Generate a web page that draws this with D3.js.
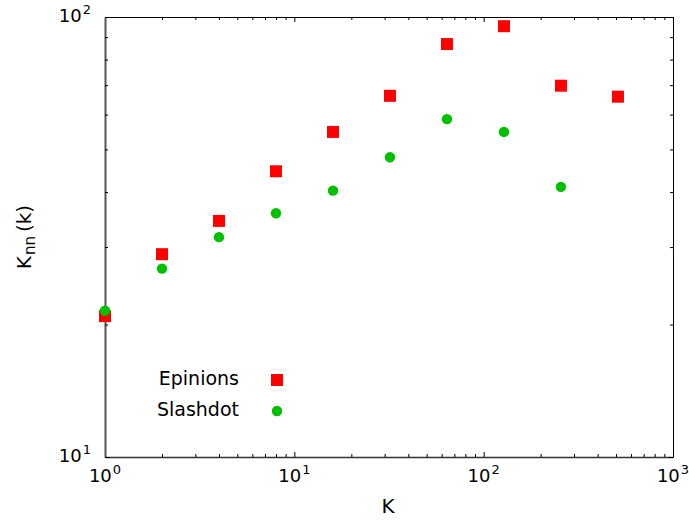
<!DOCTYPE html>
<html>
<head>
<meta charset="utf-8">
<script src="https://cdn.jsdelivr.net/npm/d3@7"></script>
<style>
  body { margin: 0; background: #fff; }
  svg { display: block; font-family: "DejaVu Sans", Verdana, sans-serif; }
</style>
</head>
<body>
<div id="chart"></div>
<script>
var width = 689;
var height = 520;
var margin = {top: 17, right: 16, bottom: 63, left: 105};
var plotW = width - margin.left - margin.right;
var plotH = height - margin.top - margin.bottom;

// data
var seriesNames = ["Epinions", "Slashdot"];
var degreesEpinions = [1, 2, 4, 8, 16, 32, 64, 128, 256, 512];
var knnEpinions = [20.9, 28.9, 34.4, 44.6, 54.8, 66.2, 86.8, 95.3, 69.8, 65.9];
var degreesSlashdot = [1, 2, 4, 8, 16, 32, 64, 128, 256];
var knnSlashdot = [21.5, 26.8, 31.6, 35.8, 40.3, 48.0, 58.6, 54.8, 41.1];
var xDecades = [0, 1, 2, 3];
var yDecades = [1, 2];

var svg = d3.select("#chart")
    .append("svg")
    .attr("width", width)
    .attr("height", height);

var x = d3.scaleLog().domain([1, 1000]).range([0, plotW]);
var y = d3.scaleLog().domain([10, 100]).range([plotH, 0]);

var g = svg.append("g")
    .attr("transform", "translate(" + margin.left + "," + margin.top + ")");

// every 1..9 tick in each decade
function logTicks(decs) {
    var t = [];
    for (var i = 0; i < decs.length - 1; i++) {
        for (var m = 1; m < 10; m++) t.push(m * Math.pow(10, decs[i]));
    }
    t.push(Math.pow(10, decs[decs.length - 1]));
    return t;
}
function isMajor(v) {
    var l = Math.log10(v);
    return Math.abs(l - Math.round(l)) < 1e-9;
}
var xTicks = logTicks(xDecades);
var yTicks = logTicks(yDecades);

function styleAxis(sel, color, w) {
    sel.select(".domain").attr("stroke", color).attr("stroke-width", w);
    sel.selectAll(".tick line").attr("stroke", "#000").attr("stroke-width", 1);
    sel.selectAll(".tick text").remove();
}

// bottom
var bottomAx = g.append("g")
    .attr("transform", "translate(0," + plotH + ")")
    .call(d3.axisBottom(x).tickValues(xTicks).tickSizeOuter(0).tickFormat(""));
bottomAx.selectAll(".tick line").attr("y2", d => isMajor(d) ? -5 : -3);
styleAxis(bottomAx, "#333", 1.5);

// top
var topAx = g.append("g")
    .call(d3.axisTop(x).tickValues(xTicks).tickSizeOuter(0).tickFormat(""));
topAx.selectAll(".tick line").attr("y2", d => isMajor(d) ? 5 : 3);
styleAxis(topAx, "#000", 1);

// left
var leftAx = g.append("g")
    .call(d3.axisLeft(y).tickValues(yTicks).tickSizeOuter(0).tickFormat(""));
leftAx.selectAll(".tick line").attr("x2", d => isMajor(d) ? 5 : 3);
styleAxis(leftAx, "#555", 2);

// right
var rightAx = g.append("g")
    .attr("transform", "translate(" + plotW + ",0)")
    .call(d3.axisRight(y).tickValues(yTicks).tickSizeOuter(0).tickFormat(""));
rightAx.selectAll(".tick line").attr("x2", d => isMajor(d) ? -5 : -3);
styleAxis(rightAx, "#000", 1);

// power-of-ten labels
function powLabel(sel, exp) {
    sel.append("tspan").text("10");
    sel.append("tspan").attr("dy", -8).attr("dx", 1).style("font-size", "13px").text(exp);
}
xDecades.forEach(function(d) {
    var t = g.append("text")
        .attr("x", x(Math.pow(10, d)))
        .attr("y", plotH + 25)
        .attr("text-anchor", "middle")
        .style("font-size", "18px")
        .attr("fill", "#000");
    powLabel(t, d);
});
yDecades.forEach(function(d) {
    var t = g.append("text")
        .attr("x", -14)
        .attr("y", y(Math.pow(10, d)) + 5)
        .attr("text-anchor", "end")
        .style("font-size", "18px")
        .attr("fill", "#000");
    powLabel(t, d);
});

// axis titles
svg.append("text")
    .attr("x", 388)
    .attr("y", 513)
    .attr("text-anchor", "middle")
    .style("font-size", "20px")
    .text("K");

var yTitle = svg.append("text")
    .attr("transform", "translate(31,237) rotate(-90)")
    .attr("text-anchor", "middle")
    .style("font-size", "20px");
yTitle.append("tspan").text("K");
yTitle.append("tspan").attr("dy", 4).attr("dx", 1).style("font-size", "15px").text("nn");
yTitle.append("tspan").attr("dy", -4).attr("dx", 4).text("(k)");

// markers
var sq = 12;
g.selectAll("rect.epinions")
    .data(d3.zip(degreesEpinions, knnEpinions))
    .enter().append("rect")
    .attr("class", "epinions")
    .attr("x", d => x(d[0]) - sq / 2)
    .attr("y", d => y(d[1]) - sq / 2)
    .attr("width", sq)
    .attr("height", sq)
    .attr("fill", "#ff0000");

g.selectAll("circle.slashdot")
    .data(d3.zip(degreesSlashdot, knnSlashdot))
    .enter().append("circle")
    .attr("class", "slashdot")
    .attr("cx", d => x(d[0]))
    .attr("cy", d => y(d[1]))
    .attr("r", 5.2)
    .attr("fill", "#00c000");

// legend
var legend = svg.append("g");
seriesNames.forEach(function(name, i) {
    var ly = 380 + i * 31;
    legend.append("text")
        .attr("x", 239)
        .attr("y", ly + 5)
        .attr("text-anchor", "end")
        .style("font-size", "19px")
        .text(name);
    if (i === 0) {
        legend.append("rect")
            .attr("x", 277 - sq / 2)
            .attr("y", ly - sq / 2)
            .attr("width", sq)
            .attr("height", sq)
            .attr("fill", "#ff0000");
    } else {
        legend.append("circle")
            .attr("cx", 277)
            .attr("cy", ly)
            .attr("r", 5.2)
            .attr("fill", "#00c000");
    }
});
</script>
</body>
</html>
